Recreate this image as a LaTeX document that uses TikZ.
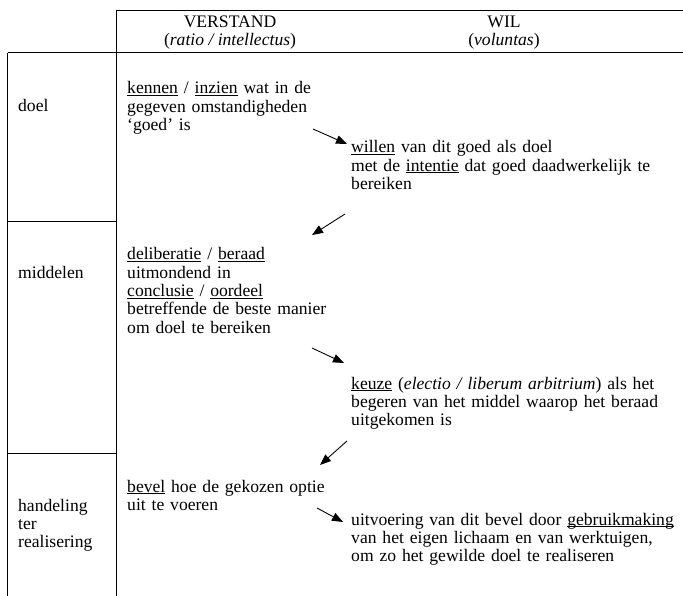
\documentclass[tikz,border=0pt]{standalone}
\usepackage{fontspec}
\setmainfont{Liberation Serif}
\usetikzlibrary{arrows.meta}
\newcommand\ulw[1]{\underline{\smash{#1}}}
\begin{document}
\begin{tikzpicture}[x=1pt,y=-1pt,
  rule/.style={line width=1pt},
  txt/.style={anchor=base west, inner sep=0pt, align=left, text width=340pt,
    font=\fontsize{17.6}{18.3}\selectfont},
  hdr/.style={anchor=base, inner sep=0pt, font=\fontsize{17.6}{18.3}\selectfont},
  arr/.style={line width=0.9pt, -{Triangle[length=11pt,width=8.5pt]}}
]
\useasboundingbox (0,0) rectangle (683,596);
% table rules
\draw[rule] (116,10.5) -- (683,10.5);
\draw[rule] (116,10.5) -- (116,596);
\draw[rule] (7.5,53) -- (683,53);
\draw[rule] (7.5,53) -- (7.5,596);
\draw[rule] (7.5,222) -- (116,222);
\draw[rule] (7.5,453) -- (116,453);
% header
\node[hdr] (h1) at (230,28) {VERSTAND};
\node[hdr] (h1b) at (230,46) {(\textit{ratio / intellectus})};
\node[hdr] (h2) at (504,28) {WIL};
\node[hdr] (h2b) at (504,46) {(\textit{voluntas})};
% row labels
\node[txt] (r1) at (18,112) {doel};
\node[txt] (r2) at (18,279) {middelen};
\node[txt] (r3) at (18,511) {handeling\\ter\\realisering};
% verstand column
\node[txt] (k1) at (127,94) {\ulw{kennen} / \ulw{inzien} wat in de\\gegeven omstandigheden\\‘goed’ is};
\node[txt] (k2) at (127,260) {\ulw{deliberatie} / \ulw{beraad}\\uitmondend in\\\ulw{conclusie} / \ulw{oordeel}\\betreffende de beste manier\\om doel te bereiken};
\node[txt] (k3) at (127,492) {\ulw{bevel} hoe de gekozen optie\\uit te voeren};
% wil column
\node[txt] (w1) at (351,153) {\ulw{willen} van dit goed als doel\\met de \ulw{intentie} dat goed daadwerkelijk te\\bereiken};
\node[txt] (w2) at (351,389) {\ulw{keuze} (\textit{electio / liberum arbitrium}) als het\\begeren van het middel waarop het beraad\\uitgekomen is};
\node[txt] (w3) at (351,525) {uitvoering van dit bevel door \ulw{gebruikmaking}\\van het eigen lichaam en van werktuigen,\\om zo het gewilde doel te realiseren};
% arrows
\coordinate (a1s) at (313,129); \coordinate (a1e) at (347,144);
\coordinate (a2s) at (345,214); \coordinate (a2e) at (312,235);
\coordinate (a3s) at (312,348); \coordinate (a3e) at (344,363);
\coordinate (a4s) at (347,441); \coordinate (a4e) at (320,465);
\coordinate (a5s) at (317,508); \coordinate (a5e) at (343,522);
\draw[arr] (a1s) -- (a1e);
\draw[arr] (a2s) -- (a2e);
\draw[arr] (a3s) -- (a3e);
\draw[arr] (a4s) -- (a4e);
\draw[arr] (a5s) -- (a5e);
\end{tikzpicture}
\end{document}
